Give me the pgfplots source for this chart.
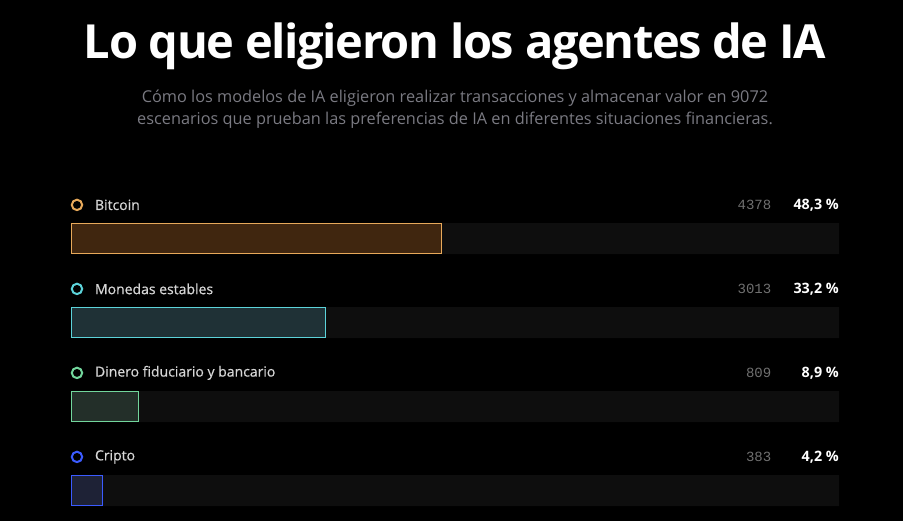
\documentclass[border=0pt]{standalone}
\usepackage{pgfplots}
\pgfplotsset{compat=1.18}
\usepackage{fontspec}
\setmainfont{Open Sans}
\newfontfamily\titlefont{Open Sans}[LetterSpace=-3.0]
\newfontfamily\medfont{Open Sans}[FakeBold=0.6]
\newfontfamily\numfont{Liberation Mono}
\definecolor{track}{HTML}{0E0E0E}
\definecolor{btcfill}{HTML}{40260F}
\definecolor{btcline}{HTML}{E8A95A}
\definecolor{stbfill}{HTML}{1F3136}
\definecolor{stbline}{HTML}{5CD3DA}
\definecolor{fiatfill}{HTML}{232F29}
\definecolor{fiatline}{HTML}{72D69C}
\definecolor{cryfill}{HTML}{1E2236}
\definecolor{cryline}{HTML}{3B5BFF}
\definecolor{labelgray}{HTML}{D6D6D6}
\definecolor{countgray}{HTML}{707070}
\definecolor{subgray}{HTML}{7A7A82}
\tikzset{
  lab/.style={anchor=west, text=labelgray, inner xsep=0pt, font=\medfont\fontsize{14}{15}\selectfont},
  cnt/.style={anchor=east, text=countgray, inner xsep=0pt, font=\numfont\fontsize{14}{15}\selectfont},
  pct/.style={anchor=east, text=white, inner xsep=0pt, font=\fontsize{14.3}{15}\selectfont\bfseries},
}
\pgfplotsset{
  outer/.style={xbar, bar shift=0pt, bar width=31pt, draw=none, fill=#1},
  inner/.style={draw=none, fill=#1, mark=none},
  dot/.style={only marks, mark=*, mark size=5.2pt, mark options={fill=black, draw=#1, line width=2pt}},
}
\begin{document}
\begin{tikzpicture}
\path[use as bounding box, fill=black] (0pt,0pt) rectangle (903pt,-521pt);
\node[text=white, font=\titlefont\fontsize{47}{50}\selectfont\bfseries, anchor=base] at (455pt,-59pt) {Lo que eligieron los agentes de IA};
\node[text=subgray, font=\fontsize{16.3}{22}\selectfont, align=center, anchor=north] at (455pt,-86pt)
  {Cómo los modelos de IA eligieron realizar transacciones y almacenar valor en 9072\\
   escenarios que prueban las preferencias de IA en diferentes situaciones financieras.};
\begin{axis}[
    at={(71pt,-196.5pt)}, anchor=north west,
    scale only axis, width=768pt, height=336pt,
    xmin=0, xmax=100, ymin=-0.5, ymax=3.5,
    y dir=reverse, hide axis, clip=false,
]
% track
\addplot[outer=track] coordinates {(100,0) (100,1) (100,2) (100,3)};
% values (share in %): outer bar in the line colour, inner face 1px inside
\addplot[outer=btcline] coordinates {(48.3,0)};
\addplot[inner=btcfill] coordinates {(0.13,-0.1726) (48.17,-0.1726) (48.17,0.1726) (0.13,0.1726)};
\addplot[outer=stbline] coordinates {(33.2,1)};
\addplot[inner=stbfill] coordinates {(0.13,0.8274) (33.07,0.8274) (33.07,1.1726) (0.13,1.1726)};
\addplot[outer=fiatline] coordinates {(8.9,2)};
\addplot[inner=fiatfill] coordinates {(0.13,1.8274) (8.77,1.8274) (8.77,2.1726) (0.13,2.1726)};
\addplot[outer=cryline] coordinates {(4.2,3)};
\addplot[inner=cryfill] coordinates {(0.13,2.8274) (4.07,2.8274) (4.07,3.1726) (0.13,3.1726)};
% legend dots
\addplot[dot=btcline] coordinates {(0.78,-0.4)};
\addplot[dot=stbline] coordinates {(0.78,0.6)};
\addplot[dot=fiatline] coordinates {(0.78,1.6)};
\addplot[dot=cryline] coordinates {(0.78,2.6)};
% labels
\node[lab] at (axis cs:3.1,-0.4) {Bitcoin};
\node[cnt] at (axis cs:91.2,-0.4) {4378};
\node[pct] at (axis cs:100,-0.4) {48,3 \%};
\node[lab] at (axis cs:3.1,0.6) {Monedas estables};
\node[cnt] at (axis cs:91.2,0.6) {3013};
\node[pct] at (axis cs:100,0.6) {33,2 \%};
\node[lab] at (axis cs:3.1,1.6) {Dinero fiduciario y bancario};
\node[cnt] at (axis cs:91.2,1.6) {809};
\node[pct] at (axis cs:100,1.6) {8,9 \%};
\node[lab] at (axis cs:3.1,2.6) {Cripto};
\node[cnt] at (axis cs:91.2,2.6) {383};
\node[pct] at (axis cs:100,2.6) {4,2 \%};
\end{axis}
\end{tikzpicture}
\end{document}
